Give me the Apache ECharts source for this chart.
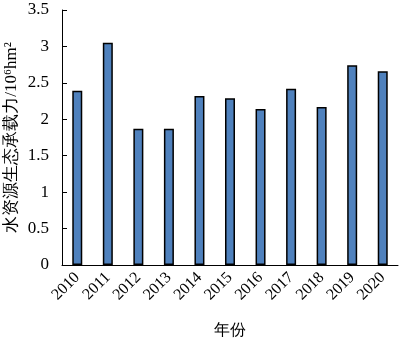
<!DOCTYPE html>
<html>
<head>
<meta charset="utf-8">
<script src="https://cdn.jsdelivr.net/npm/echarts@6/dist/echarts.min.js"></script>
<style>
  html, body { margin: 0; padding: 0; background: #fff; }
  #container { width: 401px; height: 342px; }
</style>
</head>
<body>
<div id="container"></div>
<script>
var dom = document.getElementById('container');
var myChart = echarts.init(dom, null, { renderer: 'canvas' });

// 年份
var years = ['2010', '2011', '2012', '2013', '2014', '2015', '2016', '2017', '2018', '2019', '2020'];
// 水资源生态承载力 (10^6 hm2)
var capacity = [2.39, 3.05, 1.87, 1.87, 2.32, 2.29, 2.14, 2.42, 2.17, 2.74, 2.66];
var yTicks = { min: 0, max: 3.5, interval: 0.5 };

var serif = "'Liberation Serif', 'Times New Roman', serif";

var option = {
    backgroundColor: '#fff',
    animation: false,
    textStyle: { fontFamily: serif },
    grid: {
        left: 62,
        right: 3,
        top: 10,
        bottom: 77,
        containLabel: false,
        outerBoundsMode: 'none'
    },
    xAxis: {
        type: 'category',
        data: years,
        name: '年份',
        nameLocation: 'middle',
        nameGap: 58,
        nameMoveOverlap: false,
        nameTextStyle: { fontFamily: serif, fontSize: 16, color: '#000' },
        axisLine: { lineStyle: { color: '#000', width: 1 } },
        axisTick: { inside: true, length: 5, lineStyle: { color: '#000' } },
        axisLabel: {
            interval: 0,
            rotate: 45,
            margin: 10,
            fontFamily: serif,
            fontSize: 16,
            color: '#000'
        }
    },
    yAxis: {
        type: 'value',
        min: yTicks.min,
        max: yTicks.max,
        interval: yTicks.interval,
        name: '水资源生态承载力/10⁶hm²',
        nameLocation: 'middle',
        nameRotate: 90,
        nameGap: 42,
        nameMoveOverlap: false,
        nameTextStyle: { fontFamily: serif, fontSize: 17, color: '#000' },
        axisLine: { show: true, lineStyle: { color: '#000', width: 1 } },
        axisTick: { show: true, inside: true, length: 5, lineStyle: { color: '#000' } },
        splitLine: { show: false },
        axisLabel: {
            margin: 13,
            fontFamily: serif,
            fontSize: 17,
            color: '#000'
        }
    },
    series: [
        {
            type: 'bar',
            data: capacity,
            barWidth: 10,
            itemStyle: {
                color: '#4F81BD',
                borderColor: '#000',
                borderWidth: 1.5
            }
        }
    ]
};

myChart.setOption(option);
window.addEventListener('resize', myChart.resize);
</script>
</body>
</html>
